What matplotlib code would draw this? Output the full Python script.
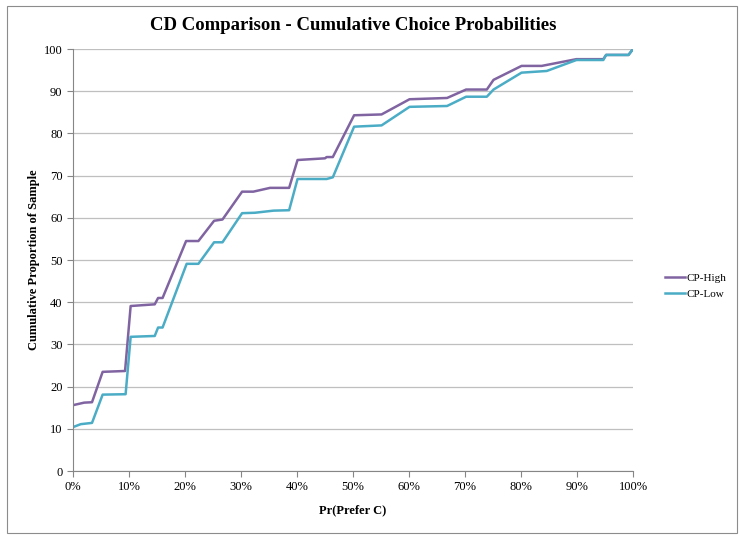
import matplotlib
matplotlib.use("Agg")
import matplotlib.pyplot as plt
from matplotlib.ticker import FuncFormatter, MultipleLocator
from matplotlib.patches import Rectangle

plt.rcParams["font.family"] = ["Liberation Serif", "DejaVu Serif"]

# Pr(Prefer C) in percent, cumulative proportion of sample
HIGH_X = [0, 2.0, 3.4, 5.3, 9.3, 10.3, 14.6, 15.2, 16.0, 20.2, 22.4, 25.2, 26.7,
          30.2, 32.2, 35.2, 38.6, 40.1, 45.0, 45.3, 46.4, 50.2, 55.1, 60.1,
          66.8, 70.2, 73.9, 75.1, 80.1, 83.7, 89.9, 94.7, 95.2, 99.2, 100]
HIGH_Y = [15.6, 16.2, 16.3, 23.5, 23.7, 39.1, 39.5, 41.0, 41.0, 54.5, 54.5, 59.3,
          59.6, 66.2, 66.2, 67.1, 67.1, 73.7, 74.1, 74.4, 74.4, 84.3, 84.5, 88.1,
          88.4, 90.4, 90.4, 92.7, 96.0, 96.0, 97.6, 97.6, 98.6, 98.6, 100]

LOW_X = [0, 1.4, 3.4, 5.3, 9.4, 10.3, 14.6, 15.2, 16.0, 20.3, 22.4, 25.2, 26.7,
         30.2, 32.5, 35.8, 38.6, 40.1, 45.3, 46.4, 50.2, 55.1, 60.1, 66.8,
         70.2, 73.9, 75.1, 80.1, 84.6, 89.9, 94.7, 95.2, 99.2, 100]
LOW_Y = [10.4, 11.1, 11.4, 18.1, 18.2, 31.8, 32.0, 34.0, 34.0, 49.1, 49.1, 54.2,
         54.2, 61.1, 61.2, 61.7, 61.8, 69.2, 69.2, 69.6, 81.6, 81.9, 86.3, 86.5,
         88.7, 88.7, 90.4, 94.4, 94.8, 97.4, 97.4, 98.6, 98.6, 100]

SERIES = ["CP-High", "CP-Low"]
COLORS = ["#8064A2", "#4BACC6"]

fig = plt.figure(figsize=(7.4, 5.37), dpi=100)
fig.patches.append(Rectangle((0.010, 0.008), 0.986, 0.980, transform=fig.transFigure,
                             fill=False, edgecolor="#8c8c8c", linewidth=0.8))
ax = fig.add_axes([0.0986, 0.1229, 0.7568, 0.7858])

ax.plot(HIGH_X, HIGH_Y, color=COLORS[0], linewidth=1.8, label=SERIES[0])
ax.plot(LOW_X, LOW_Y, color=COLORS[1], linewidth=1.8, label=SERIES[1])

ax.set_xlim(0, 100)
ax.set_ylim(0, 100)
ax.xaxis.set_major_locator(MultipleLocator(10))
ax.yaxis.set_major_locator(MultipleLocator(10))
ax.xaxis.set_major_formatter(FuncFormatter(lambda v, p: "{:d}%".format(int(round(v)))))
ax.grid(axis="y", color="#bfbfbf", linewidth=0.9)
ax.set_axisbelow(True)
for side in ["top", "right"]:
    ax.spines[side].set_visible(False)
for side in ["left", "bottom"]:
    ax.spines[side].set_color("#868686")
ax.tick_params(axis="both", colors="#868686", labelcolor="black", labelsize=9,
               length=4, direction="out")

ax.set_title("CD Comparison - Cumulative Choice Probabilities", fontsize=13.5,
             fontweight="bold", pad=14)
ax.set_xlabel("Pr(Prefer C)", fontsize=9, fontweight="bold", labelpad=8)
ax.set_ylabel("Cumulative Proportion of Sample", fontsize=9, fontweight="bold",
              labelpad=3)

fig.legend(loc="center left", bbox_to_anchor=(0.885, 0.467), frameon=False,
           fontsize=8, handlelength=1.8, handletextpad=0.1, labelspacing=0.6)

fig.savefig("out.png", dpi=100)
